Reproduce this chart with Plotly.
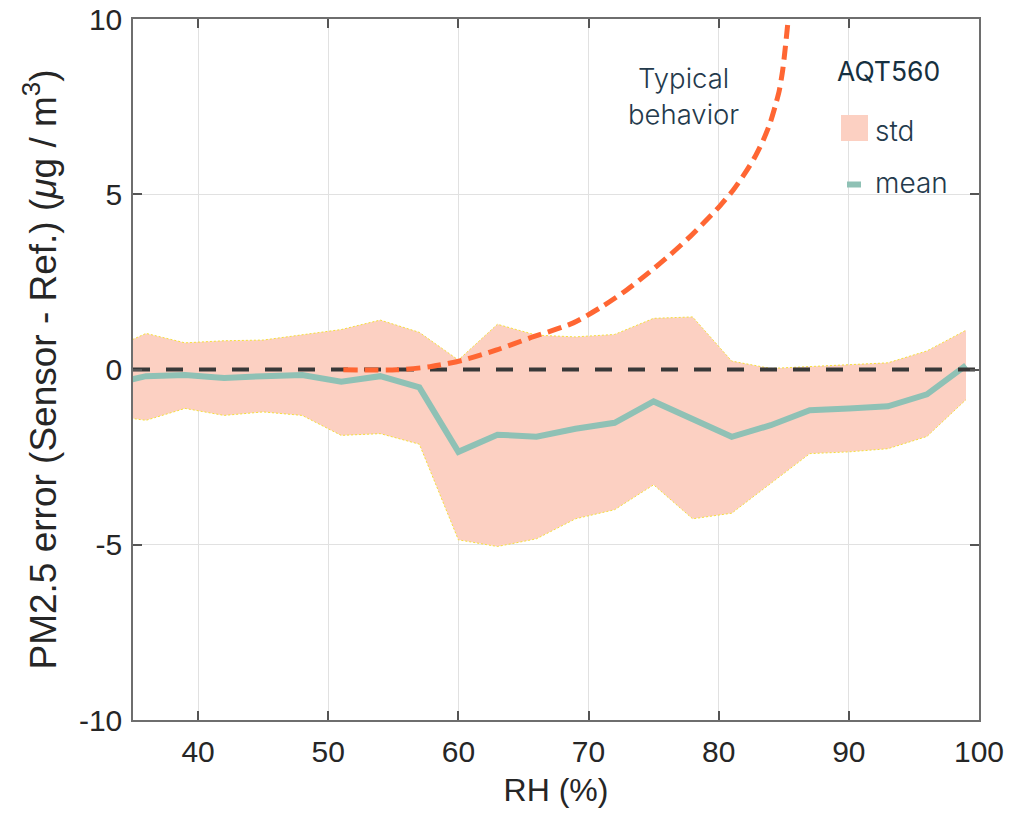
import plotly.graph_objects as go

# ---------------- data ----------------
rh = [33, 36, 39, 42, 45, 48, 51, 54, 57, 60, 63, 66, 69, 72, 75, 78, 81, 84, 87, 90, 93, 96, 99]
err_mean = [-0.45, -0.19, -0.16, -0.24, -0.19, -0.16, -0.35, -0.19, -0.51, -2.35, -1.86, -1.92,
            -1.69, -1.52, -0.91, -1.40, -1.92, -1.59, -1.16, -1.11, -1.05, -0.71, 0.12]
err_upper = [0.52, 1.03, 0.76, 0.82, 0.84, 0.98, 1.14, 1.41, 1.06, 0.27, 1.29, 0.98,
             0.93, 1.00, 1.46, 1.50, 0.24, 0.03, 0.09, 0.15, 0.19, 0.53, 1.12]
err_lower = [-1.30, -1.45, -1.11, -1.31, -1.21, -1.31, -1.88, -1.83, -2.13, -4.86, -5.05, -4.83,
             -4.26, -4.00, -3.29, -4.26, -4.10, -3.24, -2.40, -2.35, -2.26, -1.91, -0.86]

typical_x = [51.16, 55.26, 57.82, 60.38, 62.94, 65.50, 68.83, 71.14, 72.93, 74.72, 76.26, 77.80,
             78.95, 80.10, 81.12, 82.02, 82.79, 83.43, 83.94, 84.33, 84.66, 84.92, 85.10, 85.27, 85.33]
typical_y = [-0.01, -0.01, 0.08, 0.27, 0.56, 0.90, 1.33, 1.82, 2.27, 2.79, 3.27, 3.79,
             4.22, 4.67, 5.12, 5.60, 6.07, 6.55, 7.02, 7.50, 7.97, 8.55, 9.12, 9.73, 9.95]

x_ticks = [40, 50, 60, 70, 80, 90, 100]
y_ticks = [-10, -5, 0, 5, 10]
y_tick_text = ["-10", "-5", "0", "5", "10"]

# ---------------- style ----------------
FILL = "#FCD0C2"
EDGE = "#F5E03A"
MEAN_C = "#8FC1B5"
ORANGE = "#FF6633"
TXT = "#243A4C"
TICK_FONT = "Liberation Sans, Arial, sans-serif"
TEXT_FONT = "Inter, Roboto, sans-serif"

W, H = 1031, 816
L, R, T, B = 133, 979, 19, 720


def pxx(p):
    return (p - L) / (R - L)


def pxy(p):
    return (B - p) / (B - T)


fig = go.Figure()

# std band
fig.add_trace(go.Scatter(x=rh, y=err_lower, mode="lines",
                         line=dict(color=EDGE, width=1, dash="2px,2px"),
                         hoverinfo="skip", showlegend=False))
fig.add_trace(go.Scatter(x=rh, y=err_upper, mode="lines", fill="tonexty", fillcolor=FILL,
                         line=dict(color=EDGE, width=1, dash="2px,2px"),
                         name="std", showlegend=False))
# mean
fig.add_trace(go.Scatter(x=rh, y=err_mean, mode="lines",
                         line=dict(color=MEAN_C, width=6),
                         name="mean", showlegend=False))
# zero reference
fig.add_trace(go.Scatter(x=[35, 100], y=[0, 0], mode="lines",
                         line=dict(color="#383838", width=4, dash="17px,16px"),
                         hoverinfo="skip", showlegend=False))
# typical behaviour curve
fig.add_trace(go.Scatter(x=typical_x, y=typical_y, mode="lines",
                         line=dict(color=ORANGE, width=5, dash="14px,7px",
                                   shape="spline", smoothing=0.7),
                         hoverinfo="skip", showlegend=False))

axis_common = dict(showline=True, linecolor="#6E6E6E", linewidth=1.5, mirror="ticks",
                   ticks="inside", ticklen=9, tickcolor="#555555", tickwidth=1.5,
                   showgrid=True, gridcolor="#E1E1E1", gridwidth=1, zeroline=False,
                   tickfont=dict(family=TICK_FONT, size=30, color="#262626"))

fig.update_xaxes(range=[35, 100], tickvals=x_ticks, ticklabelstandoff=4,
                 title=dict(text="RH (%)", font=dict(family=TICK_FONT, size=32, color="#262626"),
                            standoff=12),
                 **axis_common)
fig.update_yaxes(range=[-10, 10], tickvals=y_ticks, ticktext=y_tick_text, ticklabelstandoff=3,
                 title=dict(text="PM2.5 error (Sensor - Ref.) (<i>μ</i>g / m<sup>3</sup>)",
                            font=dict(family=TICK_FONT, size=37, color="#262626"), standoff=11),
                 **axis_common)

# white legend box
fig.add_shape(type="rect", xref="paper", yref="paper", x0=pxx(790), x1=1, y0=pxy(230), y1=1,
              fillcolor="white", line=dict(width=0), layer="between")
# legend swatches
fig.add_shape(type="rect", xref="paper", yref="paper", x0=pxx(841), x1=pxx(868),
              y0=pxy(141), y1=pxy(115), fillcolor=FILL, line=dict(width=0), layer="above")
fig.add_shape(type="rect", xref="paper", yref="paper", x0=pxx(847), x1=pxx(861),
              y0=pxy(187.5), y1=pxy(181.5), fillcolor=MEAN_C, line=dict(width=0), layer="above")

leg_font = dict(family=TEXT_FONT, size=28, color=TXT, weight=300)
fig.add_annotation(xref="paper", yref="paper", x=pxx(888), y=pxy(71), text="AQT560",
                   showarrow=False, xanchor="center", yanchor="middle",
                   font=dict(family=TEXT_FONT, size=26.5, color="#163040", weight=400))
fig.add_annotation(xref="paper", yref="paper", x=pxx(873), y=pxy(131), text="std",
                   showarrow=False, xanchor="left", yanchor="middle", font=leg_font)
fig.add_annotation(xref="paper", yref="paper", x=pxx(873), y=pxy(183), text="mean",
                   showarrow=False, xanchor="left", yanchor="middle", font=leg_font)
fig.add_annotation(xref="paper", yref="paper", x=pxx(683), y=pxy(96), text="Typical<br>behavior",
                   showarrow=False, xanchor="center", yanchor="middle",
                   font=dict(family=TEXT_FONT, size=27.5, color=TXT, weight=300))

fig.update_layout(width=W, height=H, margin=dict(l=L, r=W - R, t=T, b=H - B, autoexpand=False),
                  plot_bgcolor="white", paper_bgcolor="white", showlegend=False)

fig.write_html("out.html")
